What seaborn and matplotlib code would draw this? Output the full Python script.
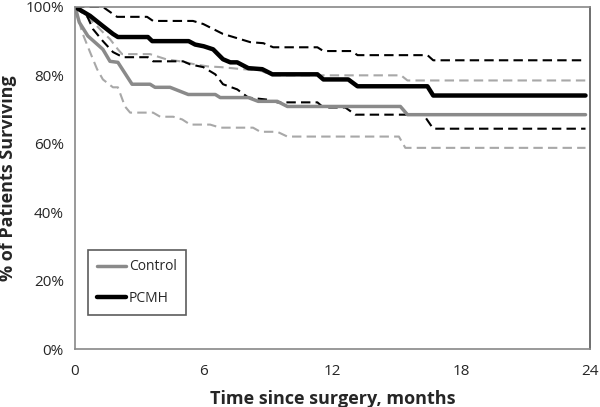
import numpy as np
import pandas as pd
import matplotlib
matplotlib.use("Agg")
import matplotlib.pyplot as plt
from matplotlib.ticker import PercentFormatter
import seaborn as sns

# survival curves (months, % surviving)
pcmh_t = [0, 0.7, 1.3, 1.77, 2.0, 3.4, 3.6, 5.3, 5.6, 6.0, 6.44, 6.9, 7.24, 7.56,
          8.08, 8.73, 9.2, 11.3, 11.58, 12.74, 13.17, 16.43, 16.7, 23.8]
pcmh_s = [100, 97.4, 94.4, 92.1, 91.2, 91.2, 90, 90, 89, 88.5, 87.6, 84.7, 83.8, 83.8,
          82.1, 81.8, 80.3, 80.3, 78.8, 78.8, 76.8, 76.8, 74.1, 74.1]

pcmh_hi_t = [0, 1.3, 1.96, 3.36, 3.64, 5.5, 5.98, 6.9, 7.7, 8.17, 8.78, 9.24, 11.3,
             11.58, 12.9, 13.17, 16.43, 16.7, 23.8]
pcmh_hi_s = [100, 100, 97.1, 97.1, 95.9, 95.9, 95, 92.1, 90.6, 89.7, 89.4, 88.2, 88.2,
             87.1, 87.1, 85.9, 85.9, 84.4, 84.4]

pcmh_lo_t = [0, 0.56, 0.84, 1.3, 1.77, 2.24, 3.4, 3.64, 5.04, 5.37, 5.98, 6.54, 6.9,
             7.56, 8.08, 8.96, 9.43, 11.3, 11.58, 12.6, 13.07, 16.25, 16.7, 23.8]
pcmh_lo_s = [100, 97.4, 93.5, 90, 86.8, 85.3, 85.3, 84.1, 84.1, 83.2, 82.4, 80.3, 77.4,
             75.9, 73.5, 72.9, 72.1, 72.1, 70.6, 70.6, 68.5, 68.5, 64.4, 64.4]

control_t = [0, 0.2, 0.6, 1.3, 1.63, 2.0, 2.66, 3.5, 3.73, 4.43, 5.28, 6.54, 6.77,
             8.08, 8.54, 9.43, 9.9, 15.17, 15.5, 23.8]
control_s = [100, 95.5, 91.5, 87.6, 84.1, 83.8, 77.4, 77.4, 76.5, 76.5, 74.4, 74.4, 73.5,
             73.5, 72.4, 72.4, 70.9, 70.9, 68.5, 68.5]

control_hi_t = [0, 0.47, 0.93, 1.3, 1.63, 2.0, 2.2, 3.5, 4.25, 4.9, 5.6, 6.2, 6.8, 7.8,
                8.6, 9.2, 15.2, 15.5, 23.8]
control_hi_s = [100, 97.6, 95, 92.6, 90.6, 87.6, 86.2, 86.2, 84.7, 84.1, 83.2, 82.6, 82.4,
                81.8, 81.5, 80, 80, 78.5, 78.5]

control_lo_t = [0, 0.1, 0.33, 0.7, 1.03, 1.3, 1.77, 2.0, 2.33, 2.57, 3.64, 3.97, 4.58,
                5.0, 5.37, 6.3, 6.77, 8.3, 8.64, 9.43, 9.9, 15.1, 15.4, 23.8]
control_lo_s = [100, 98, 92.6, 86.8, 81.8, 78.8, 76.5, 76.5, 70.9, 69.1, 69.1, 67.9, 67.9,
                67.1, 65.6, 65.6, 64.7, 64.7, 63.5, 63.5, 62.1, 62.1, 58.8, 58.8]

x_ticks = [0, 6, 12, 18, 24]
y_ticks = [0, 20, 40, 60, 80, 100]

sns.set_style("white")
plt.rcParams['font.family'] = ['Open Sans', 'DejaVu Sans']

fig = plt.figure(figsize=(6, 4.07), dpi=100)
ax = fig.add_axes([0.125, 0.1425, 0.858, 0.8405])

dash = (0, (4.5, 2.5))

# confidence bands first so the survival lines sit on top
sns.lineplot(x=control_lo_t, y=control_lo_s, ax=ax, color='#a8a8a8', lw=1.5,
             linestyle=dash, sort=False, estimator=None)
sns.lineplot(x=control_hi_t, y=control_hi_s, ax=ax, color='#a8a8a8', lw=1.5,
             linestyle=dash, sort=False, estimator=None)
sns.lineplot(x=pcmh_lo_t, y=pcmh_lo_s, ax=ax, color='black', lw=1.5,
             linestyle=dash, sort=False, estimator=None)
sns.lineplot(x=pcmh_hi_t, y=pcmh_hi_s, ax=ax, color='black', lw=1.5,
             linestyle=dash, sort=False, estimator=None)
sns.lineplot(x=control_t, y=control_s, ax=ax, color='#8a8a8a', lw=2.5,
             sort=False, estimator=None, label='Control')
sns.lineplot(x=pcmh_t, y=pcmh_s, ax=ax, color='black', lw=3.2,
             sort=False, estimator=None, label='PCMH')

ax.set_xlim(0, 24)
ax.set_ylim(0, 100)
ax.set_xticks(x_ticks)
ax.set_yticks(y_ticks)
ax.yaxis.set_major_formatter(PercentFormatter(decimals=0))
ax.tick_params(axis='both', direction='out', length=5, width=1, color='#888888',
               labelsize=11, pad=3)
ax.tick_params(axis='x', pad=6)

for side in ['left', 'bottom', 'top']:
    ax.spines[side].set_color('#888888')
    ax.spines[side].set_linewidth(1.2)
ax.spines['right'].set_color('#555555')
ax.spines['right'].set_linewidth(1.2)

ax.set_xlabel('Time since surgery, months', fontsize=13, fontweight='bold', labelpad=8)
ax.set_ylabel('% of Patients Surviving', fontsize=13, fontweight='bold', labelpad=6)

leg = ax.legend(loc='lower left', bbox_to_anchor=(0.025, 0.099), fontsize=10,
                frameon=True, fancybox=False, shadow=False, handlelength=2.1,
                handletextpad=0.2, labelspacing=1.2, borderpad=0.65,
                borderaxespad=0)
leg.get_frame().set_edgecolor('#333333')
leg.get_frame().set_linewidth(1.2)

plt.savefig('out.png', dpi=100)
